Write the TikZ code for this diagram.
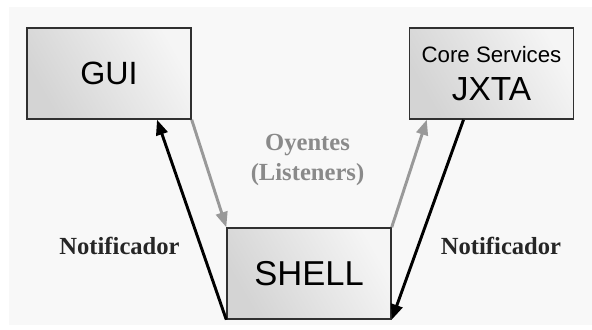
\documentclass[tikz,border=0pt]{standalone}
\usepackage{fontspec}
\setmainfont{Liberation Serif}
\setsansfont{Liberation Sans}
\usetikzlibrary{arrows.meta,calc}
\definecolor{panel}{HTML}{F8F8F8}
\definecolor{boxline}{HTML}{303030}
\definecolor{listen}{HTML}{999999}
\definecolor{listentext}{HTML}{8A8A8A}
\begin{document}
\begin{tikzpicture}[x=0.03cm, y=-0.03cm, every node/.style={font=\sffamily}]
  \tikzstyle{comp}=[draw=boxline,line width=1.2pt,minimum width=4.92cm,minimum height=2.73cm,inner sep=0pt,
    left color=black!17,right color=black!4,shading angle=120,align=center]
  \tikzstyle{notif}=[line width=2.5pt,black,-{Triangle[length=13pt,width=10pt]}]
  \tikzstyle{oyente}=[line width=2.5pt,listen,-{Triangle[length=13pt,width=10pt]}]
  \tikzstyle{lbl}=[font=\rmfamily\bfseries\fontsize{21}{25}\selectfont,text=black!85]
  \useasboundingbox (0,0) rectangle (592,329);
  \fill[panel] (9,7) rectangle (592,325);
  % components
  \node[comp] (gui) at (109,73.5) {\fontsize{27.5}{30}\selectfont GUI};
  \node[comp,font=\sffamily\fontsize{28.5}{33}\selectfont] (jxta) at (491.5,73.5)
    {\fontsize{19}{33}\selectfont Core Services\\\fontsize{28.5}{33}\selectfont JXTA};
  \node[comp] (shell) at (309,273.5) {\fontsize{29.5}{32}\selectfont SHELL};
  % listeners and notifiers
  \draw[oyente] (gui.south east) -- (shell.north west);
  \draw[oyente] (shell.north east) -- ($(jxta.south west)+(18,0)$);
  \draw[notif] (shell.south west) -- ($(gui.south)+(48,0)$);
  \draw[notif] ($(jxta.south)+(-28,0)$) -- (shell.south east);
  \node[lbl,text=listentext,align=center] (oye) at (307.5,160) {Oyentes\\(Listeners)};
  \node[lbl] (notl) at (119.5,246) {Notificador};
  \node[lbl] (notr) at (501,246) {Notificador};
\end{tikzpicture}
\end{document}
